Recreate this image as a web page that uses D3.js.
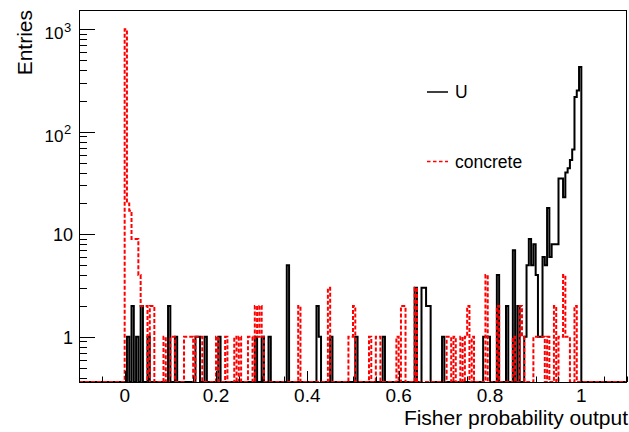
<!DOCTYPE html>
<html>
<head>
<meta charset="utf-8">
<script src="https://cdn.jsdelivr.net/npm/d3@7"></script>
<style>
  html, body { margin: 0; padding: 0; background: #fff; }
  svg { display: block; }
  text { font-family: "Liberation Sans", Arial, Helvetica, sans-serif; fill: #000; }
</style>
</head>
<body>
<script>
// ---------- data (bin low edges, bin width 0.005) ----------
const binWidth = 0.005;
const xDomain = [-0.1, 1.1];
const yDomain = [0.362, 1542];

const uBinLow = [0.005, 0.015, 0.025, 0.035, 0.05, 0.095, 0.11, 0.155, 0.16, 0.175, 0.205, 0.285, 0.3, 0.315, 0.355,
  0.42, 0.425, 0.45, 0.505, 0.565, 0.635, 0.65, 0.655, 0.66, 0.665, 0.695, 0.785, 0.79, 0.795, 0.815, 0.835, 0.85, 0.86,
  0.875, 0.88, 0.885, 0.89, 0.895, 0.9, 0.905, 0.91, 0.915, 0.92, 0.925, 0.93, 0.935, 0.94, 0.945,
  0.95, 0.955, 0.96, 0.965, 0.97, 0.975, 0.98, 0.985, 0.99, 0.995];
const uCount = [1, 2, 1, 2, 1, 2, 1, 1, 1, 1, 1, 1, 1, 1, 5,
  2, 1, 1, 1, 1, 3, 3, 3, 2, 2, 1, 1, 1, 1, 4, 2, 7, 2,
  1, 5, 9, 5, 8, 4, 1, 1, 6, 5, 18, 6, 8, 8, 8,
  35, 35, 23, 40, 44, 53, 67, 218, 253, 428];

const concreteBinLow = [0, 0.005, 0.01, 0.015, 0.02, 0.025, 0.03, 0.035, 0.04, 0.045, 0.055, 0.06, 0.085, 0.1, 0.105,
  0.13, 0.135, 0.14, 0.145, 0.155, 0.16, 0.165, 0.2, 0.22, 0.24, 0.25, 0.27, 0.275, 0.285, 0.29, 0.295, 0.3, 0.38,
  0.445, 0.49, 0.495, 0.5, 0.535, 0.55, 0.555, 0.595, 0.605, 0.61, 0.635, 0.705, 0.71, 0.72, 0.735, 0.745, 0.75, 0.76,
  0.79, 0.815, 0.85, 0.865, 0.87, 0.895, 0.9, 0.905, 0.91, 0.915, 0.925, 0.94, 0.95, 0.955, 0.96, 0.965, 0.97, 0.985];
const concreteCount = [1000, 20, 17, 9, 9, 9, 4, 2, 2, 2, 2, 2, 1, 1, 1,
  1, 1, 1, 1, 1, 1, 1, 1, 1, 1, 1, 1, 1, 2, 1, 2, 1, 2,
  3, 1, 1, 2, 1, 1, 1, 1, 2, 2, 3, 1, 1, 1, 1, 1, 2, 1,
  4, 2, 1, 2, 1, 1, 1, 1, 1, 1, 1, 2, 1, 1, 4, 1, 1, 2];

const xMajorTicks = [0, 0.2, 0.4, 0.6, 0.8, 1];
const xTickLabels = ["0", "0.2", "0.4", "0.6", "0.8", "1"];
const yMajorTicks = [1, 10, 100, 1000];
const yTickBase = ["1", "10", "10", "10"];
const yTickExp = ["", "", "2", "3"];
const seriesNames = ["U", "concrete"];
const xTitle = "Fisher probability output";
const yTitle = "Entries";

// ---------- layout ----------
const W = 629, H = 432;
const fx0 = 79, fx1 = 627, fy0 = 10, fy1 = 382;

const svg = d3.select("body").append("svg").attr("width", W).attr("height", H);

const x = d3.scaleLinear().domain(xDomain).range([fx0, fx1]);
const y = d3.scaleLog().domain(yDomain).range([fy1, fy0]).clamp(true);

// clip
svg.append("clipPath").attr("id", "fclip").append("rect")
  .attr("x", fx0).attr("y", fy0 - 1).attr("width", fx1 - fx0).attr("height", fy1 - fy0 + 2);

function histPoints(lows, counts) {
  const nb = Math.round((xDomain[1] - xDomain[0]) / binWidth);
  const arr = new Array(nb).fill(0);
  lows.forEach((l, i) => {
    const k = Math.round((l - xDomain[0]) / binWidth);
    if (k >= 0 && k < nb) arr[k] = counts[i];
  });
  const pts = [[xDomain[0], 0]];
  arr.forEach((c, k) => {
    const lo = xDomain[0] + k * binWidth, hi = lo + binWidth;
    pts.push([lo, c], [hi, c]);
  });
  pts.push([xDomain[1], 0]);
  return pts;
}

const line = d3.line()
  .x(d => x(d[0]))
  .y(d => d[1] > 0 ? y(d[1]) : fy1);

const g = svg.append("g").attr("clip-path", "url(#fclip)");
g.append("path")
  .attr("d", line(histPoints(uBinLow, uCount)))
  .attr("fill", "none").attr("stroke", "#000").attr("stroke-width", 2)
  .attr("stroke-linejoin", "miter");
g.append("path")
  .attr("d", line(histPoints(concreteBinLow, concreteCount)))
  .attr("fill", "none").attr("stroke", "#ff0000").attr("stroke-width", 2)
  .attr("stroke-dasharray", "4,2");

// frame
svg.append("rect").attr("x", fx0 + 0.5).attr("y", fy0 + 0.5)
  .attr("width", fx1 - fx0 - 1).attr("height", fy1 - fy0)
  .attr("fill", "none").attr("stroke", "#000").attr("stroke-width", 1);

// x ticks
const xMinor = d3.range(-0.1, 1.1001, 0.05).filter(v => !xMajorTicks.some(m => Math.abs(m - v) < 1e-6));
svg.append("g").selectAll("line.xmin").data(xMinor).join("line")
  .attr("x1", d => Math.round(x(d)) + 0.5).attr("x2", d => Math.round(x(d)) + 0.5)
  .attr("y1", fy1).attr("y2", fy1 - 5.5).attr("stroke", "#000");
svg.append("g").selectAll("line.xmaj").data(xMajorTicks).join("line")
  .attr("x1", d => Math.round(x(d)) + 0.5).attr("x2", d => Math.round(x(d)) + 0.5)
  .attr("y1", fy1).attr("y2", fy1 - 11).attr("stroke", "#000");
svg.append("g").selectAll("text").data(xMajorTicks).join("text")
  .attr("x", d => x(d)).attr("y", 401.5).attr("text-anchor", "middle")
  .attr("font-size", 19).text((d, i) => xTickLabels[i]);

// y ticks
const yMinor = [];
[0.1, 1, 10, 100].forEach(dec => { for (let m = 2; m <= 9; m++) { const v = m * dec; if (v > yDomain[0] && v < yDomain[1]) yMinor.push(v); } });
svg.append("g").selectAll("line").data(yMinor).join("line")
  .attr("x1", fx0).attr("x2", fx0 + 8)
  .attr("y1", d => Math.round(y(d)) + 0.5).attr("y2", d => Math.round(y(d)) + 0.5).attr("stroke", "#000");
svg.append("g").selectAll("line").data(yMajorTicks).join("line")
  .attr("x1", fx0).attr("x2", fx0 + 16)
  .attr("y1", d => Math.round(y(d)) + 0.5).attr("y2", d => Math.round(y(d)) + 0.5).attr("stroke", "#000");

yMajorTicks.forEach((v, i) => {
  const yy = y(v);
  if (yTickExp[i] === "") {
    svg.append("text").attr("x", 73).attr("y", yy + 6.8).attr("text-anchor", "end")
      .attr("font-size", 18).text(yTickBase[i]);
  } else {
    svg.append("text").attr("x", 63.5).attr("y", yy + 10).attr("text-anchor", "end")
      .attr("font-size", 17).text(yTickBase[i]);
    svg.append("text").attr("x", 64).attr("y", yy + 2.5).attr("text-anchor", "start")
      .attr("font-size", 13).text(yTickExp[i]);
  }
});

// axis titles
svg.append("text").attr("x", 628).attr("y", 425).attr("text-anchor", "end")
  .attr("font-size", 21).text(xTitle);
svg.append("text").attr("transform", "translate(32,10) rotate(-90)")
  .attr("text-anchor", "end").attr("font-size", 21).text(yTitle);

// legend
const leg = [
  { name: seriesNames[0], y: 92, color: "#000", dash: null },
  { name: seriesNames[1], y: 161.5, color: "#ff0000", dash: "3.5,2.5" }
];
leg.forEach(l => {
  const ln = svg.append("line").attr("x1", 427).attr("x2", 448).attr("y1", l.y).attr("y2", l.y)
    .attr("stroke", l.color).attr("stroke-width", 1.5);
  if (l.dash) ln.attr("stroke-dasharray", l.dash);
  svg.append("text").attr("x", 455).attr("y", l.y + 6).attr("font-size", 17.5).text(l.name);
});
</script>
</body>
</html>
